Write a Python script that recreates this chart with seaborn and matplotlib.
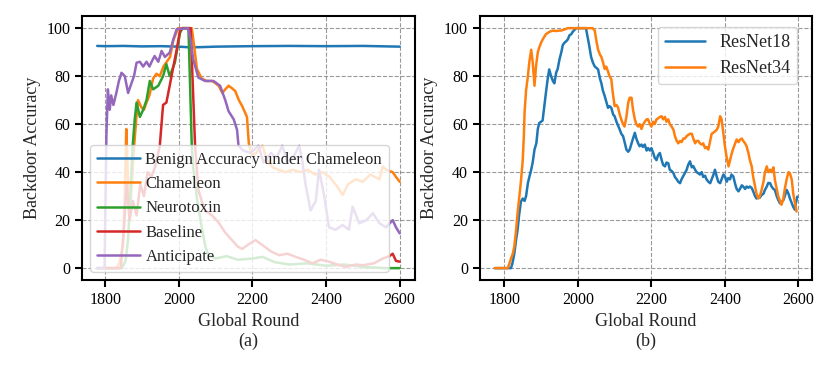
import pandas as pd
import seaborn as sns
import matplotlib.pyplot as plt

# ---- (a) data ----
benign_x = [1778, 1800, 1850, 1900, 1950, 2000, 2030, 2060, 2100, 2150, 2200, 2300, 2400, 2500, 2600]
benign_y = [92.6, 92.5, 92.6, 92.4, 92.5, 92.3, 92.0, 92.1, 92.3, 92.4, 92.5, 92.6, 92.5, 92.6, 92.3]

cham_x = [1778, 1830, 1838, 1848, 1853, 1857, 1861, 1866, 1872, 1878, 1884, 1889, 1898, 1905, 1912,
          1920, 1930, 1939, 1948, 1958, 1967, 1976, 1985, 1998, 2035, 2042, 2049, 2062, 2075, 2090,
          2100, 2108, 2118, 2126, 2135, 2144, 2153, 2163, 2172, 2185, 2190, 2198, 2210, 2220, 2227,
          2240, 2255, 2270, 2290, 2310, 2330, 2350, 2370, 2390, 2410, 2430, 2445, 2460, 2480, 2500,
          2520, 2545, 2554, 2563, 2581, 2590, 2600]
cham_y = [0, 0, 2, 10, 30, 58, 40, 22, 35, 50, 62, 70, 67, 66, 69,
          72, 79, 81, 80, 84, 86, 88, 95, 100, 100, 92, 83, 79, 78, 78,
          77, 76, 73, 74.5, 76, 75, 73.8, 70, 67.5, 63, 52, 47, 48, 50, 51,
          45, 42, 41, 40, 41, 40, 41, 39, 40, 38, 34, 30.5, 35, 37, 36,
          39, 37, 42.4, 41, 40, 38, 36]

neuro_x = [1778, 1845, 1855, 1862, 1868, 1874, 1880, 1885, 1894, 1903, 1912, 1921, 1930, 1944, 1957,
           1966, 1975, 1989, 2003, 2010, 2026, 2035, 2039, 2050, 2062, 2072, 2080, 2100, 2130, 2160,
           2200, 2227, 2260, 2300, 2350, 2400, 2450, 2500, 2560, 2600]
neuro_y = [0, 0, 3, 12, 30, 50, 62, 69, 63, 66, 70, 78, 74.5, 76, 80,
           85, 80, 85.6, 98, 100, 100, 51, 42, 28, 17, 9, 5.4, 4, 5, 3.5,
           4, 4.7, 2.5, 1.5, 2, 1, 1.5, 0.5, 0, 0]

base_x = [1778, 1842, 1850, 1858, 1866, 1875, 1885, 1895, 1905, 1915, 1925, 1935, 1948, 1957, 1966,
          1975, 1985, 1994, 2003, 2010, 2032, 2044, 2053, 2062, 2071, 2090, 2108, 2125, 2144, 2160,
          2172, 2190, 2208, 2227, 2250, 2272, 2295, 2317, 2340, 2363, 2385, 2408, 2430, 2454, 2480,
          2500, 2530, 2554, 2572, 2581, 2590, 2600]
base_y = [0, 0, 15, 35, 20, 28, 22, 35, 30, 40, 38, 42, 50.8, 68, 69,
          76, 84, 91, 99, 100, 100, 51, 32.6, 28, 24, 22, 19, 15, 11.7, 9,
          8, 10, 11.7, 9.6, 7, 5.4, 6, 4.7, 3.5, 2, 3.5, 2.7, 1.5, 0.5, 1.5,
          1.2, 2, 4, 5, 6, 3, 2.7]

anti_x = [1778, 1798, 1803, 1807, 1812, 1816, 1822, 1830, 1837, 1844, 1853, 1862, 1871, 1878, 1885,
          1894, 1903, 1912, 1920, 1926, 1934, 1944, 1953, 1962, 1975, 1985, 1994, 2025, 2032, 2039,
          2053, 2071, 2094, 2112, 2126, 2135, 2149, 2158, 2162, 2175, 2195, 2216, 2230, 2250, 2265,
          2281, 2295, 2310, 2327, 2335, 2344, 2358, 2372, 2381, 2395, 2408, 2426, 2445, 2462, 2472,
          2490, 2510, 2527, 2545, 2563, 2581, 2590, 2600]
anti_y = [0, 0, 55, 74.5, 66, 72, 68, 73, 78, 81.4, 80, 73, 77, 80, 85.6,
          86, 84, 86, 84, 86, 88.4, 86, 90.5, 88, 89.8, 95.4, 99.6, 100, 95, 87,
          79.4, 78, 78, 76, 70, 65.4, 62, 57.7, 51, 49, 48, 51, 44, 48, 46,
          51, 44, 46, 51, 45, 35, 24, 28, 41, 30, 17, 16, 18, 16, 25.6,
          18.7, 20, 22.9, 18.7, 17, 20, 17, 14.5]

# ---- (b) data ----
r18_x = [1774, 1818, 1822, 1827, 1832, 1836, 1840, 1845, 1850, 1855, 1859, 1864, 1868, 1873, 1877,
         1882, 1887, 1891, 1895, 1900, 1904, 1909, 1913, 1918, 1922, 1927, 1932, 1936, 1941, 1945,
         1950, 1955, 1959, 1964, 1968, 1973, 1977, 1982, 1986, 1995, 2022, 2027, 2031, 2036, 2041,
         2046, 2050, 2055, 2060, 2064, 2068, 2073, 2078, 2082, 2086, 2091, 2096, 2100, 2105, 2109,
         2114, 2118, 2123, 2128, 2132, 2137, 2141, 2146, 2150, 2155, 2159, 2164, 2168, 2173, 2177,
         2182, 2187, 2191, 2196, 2200, 2205, 2209, 2214, 2218, 2223, 2228, 2232, 2237, 2241, 2246,
         2250, 2255, 2260, 2264, 2269, 2273, 2278, 2282, 2287, 2291, 2296, 2300, 2305, 2310, 2314,
         2319, 2323, 2328, 2332, 2337, 2341, 2346, 2350, 2355, 2360, 2364, 2369, 2373, 2378, 2382,
         2387, 2391, 2396, 2400, 2405, 2409, 2414, 2418, 2423, 2428, 2432, 2437, 2441, 2446, 2450,
         2455, 2459, 2464, 2468, 2473, 2477, 2482, 2486, 2491, 2495, 2500, 2505, 2509, 2514, 2518,
         2523, 2527, 2532, 2536, 2541, 2545, 2550, 2554, 2559, 2563, 2568, 2573, 2577, 2582, 2586,
         2591, 2593, 2597]
r18_y = [0, 0, 2, 6, 12, 16, 22, 27.7, 29, 28, 30, 35.4, 38, 41, 44,
         49.4, 52, 58, 60.5, 61, 61.5, 68, 73, 79, 82.8, 80, 78, 77, 81.5, 83,
         87, 90, 93, 94, 94.5, 95.4, 97, 97.5, 98.5, 100, 100, 96, 92.6, 88, 85.6,
         84, 83.5, 82.8, 79, 77, 74, 71.7, 69, 66.8, 67.5, 66.8, 64, 63.3, 61, 59.5,
         57.7, 56, 55, 52, 49.4, 48.5, 49.4, 52, 54, 56.4, 54, 52, 50.8, 51.5, 50.5,
         51.5, 49, 50, 49, 50, 48, 46, 45, 47, 48, 45, 43, 42.4, 44, 43.7,
         41, 40.5, 39.6, 38, 37, 36, 35.4, 37, 38.5, 39.6, 41, 43, 44.5, 42, 42.5,
         41, 40, 39.5, 39, 40, 38, 38.5, 37, 36, 35.4, 37, 39, 41, 38, 36,
         35.4, 37, 39, 38.2, 36, 37.5, 37, 39, 38.2, 35, 33, 32, 33, 34.5, 34,
         33, 34, 33.5, 34, 33.4, 32, 30, 29, 30, 29.4, 30.5, 31, 32.6, 34, 35.5,
         35.4, 34, 33, 32.6, 30, 28.5, 27, 27.5, 28.3, 30, 32.6, 31, 29, 27, 25.5,
         24.3, 27, 29.8]

r34_x = [1774, 1809, 1814, 1818, 1823, 1827, 1832, 1836, 1841, 1845, 1850, 1853, 1855, 1859, 1864,
         1868, 1873, 1877, 1880, 1882, 1886, 1891, 1895, 1900, 1905, 1909, 1913, 1918, 1923, 1932,
         1941, 1950, 1955, 1964, 1973, 2040, 2046, 2050, 2055, 2060, 2064, 2068, 2073, 2077, 2082,
         2086, 2091, 2095, 2100, 2105, 2109, 2114, 2118, 2123, 2127, 2132, 2137, 2141, 2146, 2150,
         2155, 2159, 2164, 2168, 2173, 2178, 2182, 2187, 2191, 2196, 2200, 2205, 2209, 2214, 2219,
         2223, 2228, 2232, 2237, 2241, 2246, 2250, 2255, 2260, 2264, 2269, 2273, 2278, 2282, 2287,
         2291, 2296, 2300, 2305, 2310, 2314, 2319, 2323, 2328, 2332, 2337, 2341, 2346, 2350, 2355,
         2360, 2364, 2369, 2373, 2378, 2382, 2387, 2391, 2396, 2400, 2405, 2410, 2414, 2419, 2423,
         2428, 2432, 2437, 2441, 2446, 2450, 2455, 2459, 2464, 2468, 2473, 2477, 2482, 2486, 2491,
         2495, 2500, 2505, 2509, 2514, 2518, 2523, 2527, 2532, 2536, 2541, 2545, 2550, 2554, 2559,
         2563, 2568, 2573, 2577, 2582, 2586, 2591, 2595]
r34_y = [0, 0, 2, 4, 6, 9, 16, 23, 30, 36, 45, 55, 65, 74, 80,
         86, 91, 86, 80, 76, 84, 90, 92, 94, 95.5, 96.5, 97.5, 98, 98.5, 99,
         98.8, 99, 99, 99.5, 100, 100, 99, 95, 91, 89, 88, 86, 83, 84, 82,
         80, 78.7, 73, 67.5, 68, 67, 64, 62, 60, 59, 63, 69, 71, 71, 66,
         62, 60, 59, 60, 58, 60, 61, 62, 62, 60, 59, 61, 60, 62, 62.5,
         63, 63.3, 62, 63, 61, 62, 60, 59, 57.7, 55, 53, 52, 53, 52.5, 54,
         54, 55, 55.5, 56, 56, 54, 52, 53, 53, 52, 51.5, 52, 50, 50.5, 49.4,
         53, 56, 56.5, 57, 57.7, 59, 63.3, 62, 56, 50.8, 46, 42.4, 45, 48, 50,
         52, 53.6, 52.5, 53.5, 54, 53, 52, 50.8, 48, 45, 42.4, 38, 34, 31, 29,
         30, 32.6, 36, 40, 42.4, 40, 41, 40, 42, 36.8, 33, 30, 28, 26.4, 29,
         33, 37, 40, 39.5, 36.8, 31, 27, 23.6]

names_a = ['Benign Accuracy under Chameleon', 'Chameleon', 'Neurotoxin', 'Baseline', 'Anticipate']
names_b = ['ResNet18', 'ResNet34']


def long_df(xs, ys, names):
    parts = []
    for x, y, n in zip(xs, ys, names):
        parts.append(pd.DataFrame({'round': x, 'acc': y, 'method': n}))
    return pd.concat(parts, ignore_index=True)


df_a = long_df([benign_x, cham_x, neuro_x, base_x, anti_x],
               [benign_y, cham_y, neuro_y, base_y, anti_y], names_a)
df_b = long_df([r18_x, r34_x], [r18_y, r34_y], names_b)

sns.set_theme(style='ticks')
plt.rcParams['font.family'] = ['Liberation Serif', 'DejaVu Serif']
plt.rcParams['axes.linewidth'] = 1.5
plt.rcParams['xtick.major.width'] = 1.5
plt.rcParams['ytick.major.width'] = 1.5
plt.rcParams['xtick.major.size'] = 5
plt.rcParams['ytick.major.size'] = 5
plt.rcParams['xtick.labelsize'] = 11.5
plt.rcParams['ytick.labelsize'] = 11.5

tab = sns.color_palette('tab10')
pal_a = dict(zip(names_a, [tab[0], tab[1], tab[2], tab[3], tab[4]]))
pal_b = dict(zip(names_b, [tab[0], tab[1]]))

fig, axes = plt.subplots(1, 2, figsize=(8.29, 3.76), dpi=100)
fig.subplots_adjust(left=0.099, right=0.98, bottom=0.255, top=0.957, wspace=0.195)

sns.lineplot(data=df_a, x='round', y='acc', hue='method', palette=pal_a,
             linewidth=1.8, sort=False, ax=axes[0])
sns.lineplot(data=df_b, x='round', y='acc', hue='method', palette=pal_b,
             linewidth=1.8, sort=False, ax=axes[1])

for ax, tag in zip(axes, ['(a)', '(b)']):
    ax.set_xticks([1800, 2000, 2200, 2400, 2600])
    ax.set_yticks([0, 20, 40, 60, 80, 100])
    ax.set_ylim(-5, 105)
    ax.grid(True, linestyle='--', color='gray', linewidth=0.8, alpha=0.8)
    ax.set_axisbelow(True)
    ax.set_xlabel('Global Round\n' + tag, fontsize=13)
    ax.set_ylabel('Backdoor Accuracy', fontsize=13)
    for s in ax.spines.values():
        s.set_color('black')
    ax.tick_params(colors='black', direction='out')

axes[0].legend(loc='lower left', fontsize=12, framealpha=0.8, title=None,
               handlelength=2.6, handletextpad=0.3)
axes[1].legend(loc='upper right', bbox_to_anchor=(0.955, 0.96), borderaxespad=0,
               fontsize=13, framealpha=0.8, title=None, handlelength=2.2)

fig.savefig('out.png', dpi=100)
